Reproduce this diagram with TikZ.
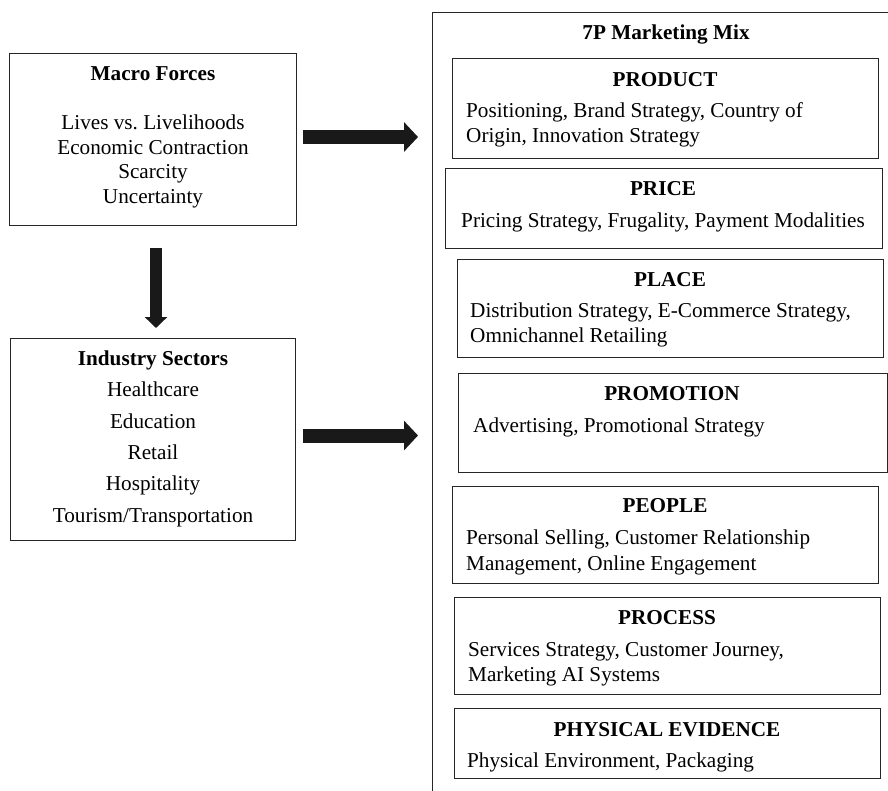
\documentclass[tikz,border=0pt]{standalone}
\usepackage{fontspec}
\setmainfont{Liberation Serif}
\usetikzlibrary{arrows.meta}
\frenchspacing
\begin{document}
\begin{tikzpicture}[x=1pt,y=-1pt,
  frame/.style={draw=black!85,line width=0.9pt,inner sep=0pt,outer sep=0pt,anchor=north west},
  body/.style={inner sep=0pt,font=\fontsize{21.2}{25}\selectfont},
  ttl/.style={inner sep=0pt,anchor=base,font=\fontsize{21.2}{25}\selectfont\bfseries},
  ln/.style={body,anchor=base west},
  cl/.style={body,anchor=base},
  fat/.style={draw=black!90,line width=14pt,-{Triangle[length=14pt,width=29pt]}},
  fatdown/.style={draw=black!90,line width=11.5pt,-{Triangle[length=11pt,width=22pt]}}]
\useasboundingbox (0,0) rectangle (888,790);
\clip (0,0) rectangle (888,790);
% outer 7P box (clipped at right and bottom)
\node[frame,minimum width=480pt,minimum height=800pt] (outer) at (432,12) {};
\node[ttl] (mixt) at (666,39) {7P Marketing Mix};
% Macro forces
\node[frame,minimum width=287pt,minimum height=172pt] (macro) at (9,53) {};
\node[ttl] (macrot) at (153,80) {Macro Forces};
\node[cl] (m1) at (153,129) {Lives vs.\ Livelihoods};
\node[cl] (m2) at (153,154) {Economic Contraction};
\node[cl] (m3) at (153,178) {Scarcity};
\node[cl] (m4) at (153,203) {Uncertainty};
% Industry sectors
\node[frame,minimum width=285pt,minimum height=202pt] (ind) at (10,338) {};
\node[ttl] (indt) at (153,365) {Industry Sectors};
\node[cl] (i1) at (153,396) {Healthcare};
\node[cl] (i2) at (153,428) {Education};
\node[cl] (i3) at (153,459) {Retail};
\node[cl] (i4) at (153,490) {Hospitality};
\node[cl] (i5) at (153,522) {Tourism/Transportation};
% PRODUCT
\node[frame,minimum width=426pt,minimum height=100pt] (prod) at (452,58) {};
\node[ttl] (prodt) at (665,86) {PRODUCT};
\node[ln] (p1) at (466,117) {Positioning, Brand Strategy, Country of};
\node[ln] (p2) at (466,142) {Origin, Innovation Strategy};
% PRICE
\node[frame,minimum width=437pt,minimum height=80pt] (price) at (445,168) {};
\node[ttl] (pricet) at (663,195) {PRICE};
\node[cl] (pr1) at (663,227) {Pricing Strategy, Frugality, Payment Modalities};
% PLACE
\node[frame,minimum width=426pt,minimum height=98pt] (place) at (457,259) {};
\node[ttl] (placet) at (670,286) {PLACE};
\node[ln] (pl1) at (470,317) {Distribution Strategy, E-Commerce Strategy,};
\node[ln] (pl2) at (470,342) {Omnichannel Retailing};
% PROMOTION
\node[frame,minimum width=429pt,minimum height=99pt] (promo) at (458,373) {};
\node[ttl] (promot) at (672,400) {PROMOTION};
\node[ln] (pm1) at (473,432) {Advertising, Promotional Strategy};
% PEOPLE
\node[frame,minimum width=426pt,minimum height=97pt] (people) at (452,486) {};
\node[ttl] (peoplet) at (665,512) {PEOPLE};
\node[ln] (pe1) at (466,544) {Personal Selling, Customer Relationship};
\node[ln] (pe2) at (466,570) {Management, Online Engagement};
% PROCESS
\node[frame,minimum width=426pt,minimum height=97pt] (proc) at (454,597) {};
\node[ttl] (proct) at (667,624) {PROCESS};
\node[ln] (pc1) at (468,656) {Services Strategy, Customer Journey,};
\node[ln] (pc2) at (468,681) {Marketing AI Systems};
% PHYSICAL EVIDENCE
\node[frame,minimum width=426pt,minimum height=70pt] (phys) at (454,708) {};
\node[ttl] (physt) at (667,736) {PHYSICAL EVIDENCE};
\node[ln] (ph1) at (467,767) {Physical Environment, Packaging};
% arrows
\draw[fat] ([xshift=7pt,yshift=2pt]macro.east) -- ([xshift=-14pt,yshift=2pt]macro.east -| outer.west);
\draw[fat] ([xshift=8pt,yshift=3.5pt]ind.east) -- ([xshift=-14pt,yshift=3.5pt]ind.east -| outer.west);
\draw[fatdown] ([xshift=3.5pt,yshift=-23pt]macro.south) -- ([xshift=3.5pt,yshift=10pt]ind.north);
\end{tikzpicture}
\end{document}
